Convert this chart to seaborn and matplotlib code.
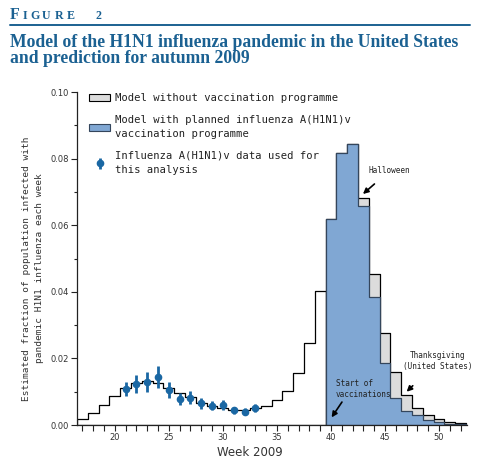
import numpy as np
import pandas as pd
import seaborn as sns
import matplotlib.pyplot as plt
from matplotlib.patches import Patch
from matplotlib.lines import Line2D
from matplotlib.ticker import MultipleLocator, FormatStrFormatter

# ---- data ----
weeks = list(range(17, 53))
no_vacc = [0.0018, 0.0035, 0.0060, 0.0087, 0.0112, 0.0127, 0.0132, 0.0125,
           0.0112, 0.0096, 0.0084, 0.0067, 0.0058, 0.0052, 0.0046, 0.0045,
           0.0052, 0.0058, 0.0074, 0.0102, 0.0155, 0.0246, 0.0402,
           0.0619, 0.0818, 0.0844, 0.0682, 0.0455, 0.0275, 0.0158, 0.0089,
           0.0052, 0.0030, 0.0017, 0.0008, 0.0005]
vacc_weeks = list(range(40, 53))
with_vacc = [0.0619, 0.0818, 0.0844, 0.0658, 0.0386, 0.0186, 0.0082, 0.0043,
             0.0030, 0.0015, 0.0008, 0.0004, 0.0002]

obs_weeks = list(range(21, 34))
obs_vals = [0.0109, 0.0122, 0.0128, 0.0144, 0.0104, 0.0078, 0.0082, 0.0065,
            0.0058, 0.0060, 0.0044, 0.0040, 0.0052]
obs_err = [0.0021, 0.0027, 0.0030, 0.0032, 0.0024, 0.0018, 0.0020, 0.0017,
           0.0013, 0.0014, 0.0011, 0.0010, 0.0012]

BLUE_TXT = "#1b6192"
BLUE_FILL = "#80a7d3"
BLUE_EDGE = "#34465c"
GREY_FILL = "#dcdcdc"
DOT = "#1a67a3"

sns.set_style("white")
plt.rcParams["font.family"] = ["DejaVu Sans"]

fig = plt.figure(figsize=(4.92, 4.63), dpi=100)
ax = fig.add_axes([0.1565, 0.082, 0.793, 0.719])

edges = [w - 0.5 for w in weeks] + [weeks[-1] + 0.5]
n_pre = sum(1 for w in weeks if w < 40)
model = pd.DataFrame({"week": weeks, "frac": no_vacc})
pre = model[model.week < 40]
post = model[model.week >= 40]
vacc = pd.DataFrame({"week": vacc_weeks, "frac": with_vacc})

sns.histplot(data=pre, x="week", weights="frac", bins=edges[:n_pre + 1],
             element="step", fill=True, color="white", edgecolor="black",
             linewidth=0.9, alpha=1, ax=ax)
sns.histplot(data=post, x="week", weights="frac", bins=edges[n_pre:],
             element="step", fill=True, color=GREY_FILL, edgecolor="black",
             linewidth=0.9, alpha=1, ax=ax)
sns.histplot(data=vacc, x="week", weights="frac", bins=edges[n_pre:],
             element="step", fill=True, color=BLUE_FILL, edgecolor=BLUE_EDGE,
             linewidth=0.9, alpha=1, ax=ax)

eb = ax.errorbar(obs_weeks, obs_vals, yerr=obs_err, fmt="o", color=DOT,
                 markersize=4.5, elinewidth=2.0, capsize=0, zorder=5)

ax.set_xlim(16.5, 52.6)
ax.set_ylim(0, 0.10)
sns.despine(ax=ax)
for s in ("left", "bottom"):
    ax.spines[s].set_color("#222222")
    ax.spines[s].set_linewidth(0.9)

ax.xaxis.set_major_locator(MultipleLocator(5))
ax.xaxis.set_minor_locator(MultipleLocator(1))
ax.yaxis.set_major_locator(MultipleLocator(0.02))
ax.yaxis.set_minor_locator(MultipleLocator(0.01))
ax.yaxis.set_major_formatter(FormatStrFormatter("%.2f"))
ax.tick_params(axis="both", which="both", direction="out", colors="#222222",
               labelcolor="#333333", labelsize=6, width=0.8, pad=2)
ax.tick_params(axis="x", which="both", length=4, bottom=True)
ax.tick_params(axis="y", which="major", length=4, left=True)
ax.tick_params(axis="y", which="minor", length=2.5, left=True)

ax.set_xlabel("Week 2009", fontsize=8.5, color="#333333")
ax.xaxis.set_label_coords(0.444, -0.062)
ax.set_ylabel("Estimated fraction of population infected with\n"
              "pandemic H1N1 influenza each week", fontsize=6.8,
              family="DejaVu Sans Mono", color="#333333", linespacing=1.55)
ax.yaxis.set_label_coords(-0.085, 0.47)

mono = dict(family="DejaVu Sans Mono", color="#222222")
ax.annotate("Halloween", xy=(42.96, 0.0694), xytext=(43.5, 0.0764),
            fontsize=5.6, ha="left", va="center", **mono,
            arrowprops=dict(arrowstyle="-|>", color="black", lw=1.2,
                            shrinkA=6, shrinkB=0, mutation_scale=8))
ax.annotate("Thanksgiving\n(United States)", xy=(47.0, 0.0100),
            xytext=(49.9, 0.0192), fontsize=5.6, ha="center", va="center",
            **mono,
            arrowprops=dict(arrowstyle="-|>", color="black", lw=1.2,
                            shrinkA=12, shrinkB=0, mutation_scale=8))
ax.annotate("Start of\nvaccinations", xy=(40.06, 0.0023),
            xytext=(40.45, 0.0108), fontsize=5.6, ha="left", va="center",
            **mono,
            arrowprops=dict(arrowstyle="-|>", color="black", lw=1.2,
                            shrinkA=0, shrinkB=0, mutation_scale=8,
                            relpos=(0.15, 0.0)))

handles = [
    Patch(facecolor=GREY_FILL, edgecolor="black", linewidth=0.8),
    Patch(facecolor=BLUE_FILL, edgecolor=BLUE_EDGE, linewidth=0.8),
    eb,
]
labels = [
    "Model without vaccination programme",
    "Model with planned influenza A(H1N1)v\nvaccination programme",
    "Influenza A(H1N1)v data used for\nthis analysis",
]
leg = ax.legend(handles, labels, loc="upper left", bbox_to_anchor=(0.031, 0.996),
                frameon=False, prop={"family": "DejaVu Sans Mono", "size": 7.6},
                handlelength=2.0, handleheight=0.6, handletextpad=0.5,
                labelspacing=1.05, borderpad=0, borderaxespad=0)
for t in leg.get_texts():
    t.set_color("#222222")
    t.set_linespacing(1.6)

# ---- header ----
serif = dict(family="Liberation Serif", weight="bold", color=BLUE_TXT,
             va="baseline")
fig.text(10 / 492, 0.958, "F", fontsize=11.5, **serif)
for ch, px in zip("IGURE2", [23, 30, 42, 55, 67, 95]):
    fig.text(px / 492, 0.958, ch, fontsize=8.6, **serif)
fig.add_artist(Line2D([10 / 492, 470 / 492], [0.947, 0.947], color=BLUE_TXT,
                      lw=1.4, transform=fig.transFigure))
fig.text(10 / 492, 1 - 46.7 / 463,
         "Model of the H1N1 influenza pandemic in the United States",
         fontsize=12.7, **serif)
fig.text(10 / 492, 1 - 63.3 / 463, "and prediction for autumn 2009",
         fontsize=12.7, **serif)

fig.savefig("out.png", dpi=100, facecolor="white")
